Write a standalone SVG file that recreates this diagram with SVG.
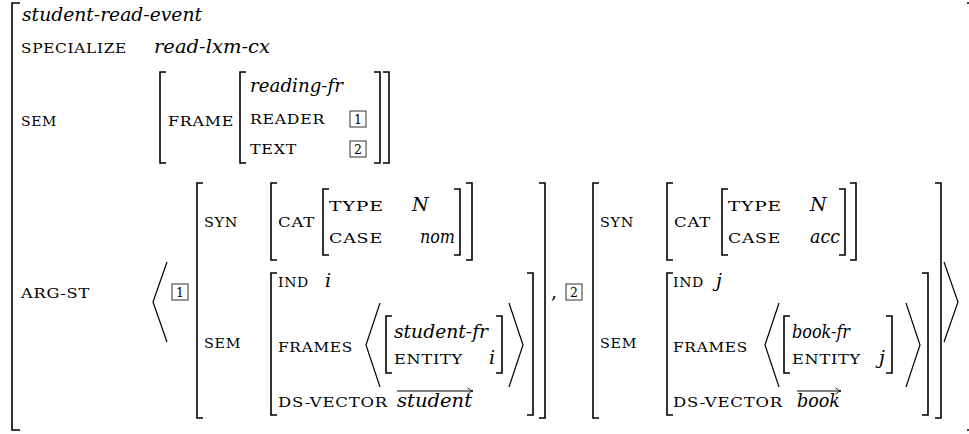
<svg xmlns="http://www.w3.org/2000/svg" width="969" height="434" viewBox="0 0 969 434">
<defs>
<style>
.sc{font-family:'DejaVu Serif','Liberation Serif',serif;font-size:12.5px;letter-spacing:0.6px;fill:#000}
.it{font-family:'DejaVu Serif','Liberation Serif',serif;font-style:italic;font-size:19px;fill:#000}
.num{font-family:'DejaVu Serif','Liberation Serif',serif;font-size:12.5px;fill:#000;text-anchor:middle}
.br{fill:none;stroke:#000;stroke-width:1.6}
.ang{fill:none;stroke:#000;stroke-width:1.2;stroke-linejoin:miter}
.box{fill:none;stroke:#333;stroke-width:1}
.vec{fill:none;stroke:#000;stroke-width:1}
</style>
<marker id="ah" viewBox="0 0 10 10" refX="9" refY="5" markerWidth="8" markerHeight="8" markerUnits="userSpaceOnUse" orient="auto">
<path d="M2,1 Q6,4.5 9,5 Q6,5.5 2,9" fill="none" stroke="#000" stroke-width="1"/>
</marker>
</defs>
<rect width="969" height="434" fill="#fff"/>
<g id="outer">
<path class="br" d="M20,3H12V430H20"/>
<path class="br" d="M967,3H976V430H967"/>
<text class="it" x="22" y="21" textLength="180" lengthAdjust="spacingAndGlyphs">student-read-event</text>
<text class="sc" x="21" y="53" textLength="106" lengthAdjust="spacingAndGlyphs">SPECIALIZE</text>
<text class="it" x="154" y="53" textLength="116" lengthAdjust="spacingAndGlyphs">read-lxm-cx</text>
<text class="sc" x="21" y="126" textLength="36" lengthAdjust="spacingAndGlyphs">SEM</text>
<text class="sc" x="21" y="298" textLength="69" lengthAdjust="spacingAndGlyphs">ARG-ST</text>
</g>

<g id="sem-top">
<path class="br" d="M166,72H160V163H166"/>
<text class="sc" x="168" y="126" textLength="66" lengthAdjust="spacingAndGlyphs">FRAME</text>
<path class="br" d="M246,72H240V163H246"/>
<text class="it" x="250" y="92" textLength="93" lengthAdjust="spacingAndGlyphs">reading-fr</text>
<text class="sc" x="250" y="124" textLength="75" lengthAdjust="spacingAndGlyphs">READER</text>
<text class="sc" x="250" y="154" textLength="47" lengthAdjust="spacingAndGlyphs">TEXT</text>
<rect class="box" x="350" y="111" width="16" height="16"/>
<text class="num" x="358" y="124">1</text>
<rect class="box" x="350" y="141" width="16" height="16"/>
<text class="num" x="358" y="154">2</text>
<path class="br" d="M374,72H380V163H374"/>
<path class="br" d="M383,72H389V163H383"/>
</g>

<g id="arg-list">
<polyline class="ang" points="167,262 153,302 167,342"/>
<polyline class="ang" points="944,262 958,302 944,342"/>
<text class="it" x="551" y="298" style="font-style:normal">,</text>
</g>

<g id="arg1">
<rect class="box" x="172" y="284" width="16" height="16"/>
<text class="num" x="180" y="297">1</text>
<path class="br" d="M203,183H197V418H203"/>
<text class="sc" x="204" y="227" textLength="34" lengthAdjust="spacingAndGlyphs">SYN</text>
<text class="sc" x="204" y="348" textLength="37" lengthAdjust="spacingAndGlyphs">SEM</text>
<path class="br" d="M277,183H271V260H277"/>
<text class="sc" x="278" y="227" textLength="37" lengthAdjust="spacingAndGlyphs">CAT</text>
<path class="br" d="M329,189H323V255H329"/>
<text class="sc" x="329" y="211" textLength="55" lengthAdjust="spacingAndGlyphs">TYPE</text>
<text class="it" x="412" y="211">N</text>
<text class="sc" x="329" y="243" textLength="54" lengthAdjust="spacingAndGlyphs">CASE</text>
<text class="it" x="420" y="243" textLength="35" lengthAdjust="spacingAndGlyphs">nom</text>
<path class="br" d="M454,189H460V255H454"/>
<path class="br" d="M466,183H472V260H466"/>
<path class="br" d="M277,273H271V415H277"/>
<text class="sc" x="278" y="287" textLength="31" lengthAdjust="spacingAndGlyphs">IND</text>
<text class="it" x="325" y="287">i</text>
<text class="sc" x="278" y="352" textLength="75" lengthAdjust="spacingAndGlyphs">FRAMES</text>
<polyline class="ang" points="380,303 366,345 380,387"/>
<path class="br" d="M392,316H386V373H392"/>
<text class="it" x="394" y="338" textLength="94" lengthAdjust="spacingAndGlyphs">student-fr</text>
<text class="sc" x="394" y="364" textLength="69" lengthAdjust="spacingAndGlyphs">ENTITY</text>
<text class="it" x="489" y="364">i</text>
<path class="br" d="M496,316H502V373H496"/>
<polyline class="ang" points="509,303 523,345 509,387"/>
<text class="sc" x="278" y="407" textLength="110" lengthAdjust="spacingAndGlyphs">DS-VECTOR</text>
<text class="it" x="397" y="407" textLength="75" lengthAdjust="spacingAndGlyphs">student</text>
<line class="vec" x1="397" y1="391" x2="473" y2="391" marker-end="url(#ah)"/>
<path class="br" d="M527,273H533V415H527"/>
<path class="br" d="M539,183H545V418H539"/>
</g>

<g id="arg2">
<rect class="box" x="566" y="284" width="16" height="16"/>
<text class="num" x="574" y="297">2</text>
<path class="br" d="M599,183H593V418H599"/>
<text class="sc" x="600" y="227" textLength="34" lengthAdjust="spacingAndGlyphs">SYN</text>
<text class="sc" x="600" y="348" textLength="37" lengthAdjust="spacingAndGlyphs">SEM</text>
<path class="br" d="M673,183H667V260H673"/>
<text class="sc" x="674" y="227" textLength="37" lengthAdjust="spacingAndGlyphs">CAT</text>
<path class="br" d="M728,189H722V255H728"/>
<text class="sc" x="728" y="211" textLength="54" lengthAdjust="spacingAndGlyphs">TYPE</text>
<text class="it" x="810" y="211">N</text>
<text class="sc" x="728" y="243" textLength="53" lengthAdjust="spacingAndGlyphs">CASE</text>
<text class="it" x="810" y="243" textLength="30" lengthAdjust="spacingAndGlyphs">acc</text>
<path class="br" d="M839,189H845V255H839"/>
<path class="br" d="M850,183H856V260H850"/>
<path class="br" d="M673,273H667V415H673"/>
<text class="sc" x="673" y="287" textLength="31" lengthAdjust="spacingAndGlyphs">IND</text>
<text class="it" x="716" y="287">j</text>
<text class="sc" x="673" y="352" textLength="75" lengthAdjust="spacingAndGlyphs">FRAMES</text>
<polyline class="ang" points="779,303 765,345 779,387"/>
<path class="br" d="M790,316H784V373H790"/>
<text class="it" x="792" y="338" textLength="58" lengthAdjust="spacingAndGlyphs">book-fr</text>
<text class="sc" x="792" y="364" textLength="69" lengthAdjust="spacingAndGlyphs">ENTITY</text>
<text class="it" x="879" y="364">j</text>
<path class="br" d="M886,316H892V373H886"/>
<polyline class="ang" points="906,303 920,345 906,387"/>
<text class="sc" x="673" y="407" textLength="110" lengthAdjust="spacingAndGlyphs">DS-VECTOR</text>
<text class="it" x="797" y="407" textLength="43" lengthAdjust="spacingAndGlyphs">book</text>
<line class="vec" x1="797" y1="391" x2="841" y2="391" marker-end="url(#ah)"/>
<path class="br" d="M922,273H928V415H922"/>
<path class="br" d="M935,183H941V418H935"/>
</g>
</svg>
